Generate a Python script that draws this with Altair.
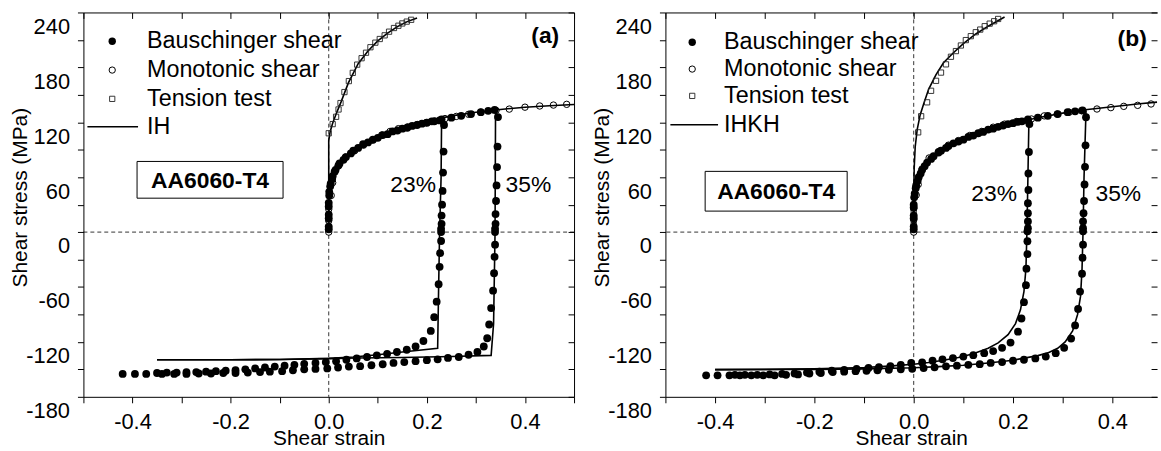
import altair as alt
import pandas as pd

FONT = "Liberation Sans"

# ---------------- Panel (a) data : [shear strain, shear stress MPa] ----------------
A_tension = [[0.0, 4], [0.0, 14], [0.0, 108], [0.008, 118], [0.015, 126], [0.020, 134], [0.024, 141],
             [0.032, 153], [0.041, 165], [0.049, 174], [0.058, 183], [0.067, 190], [0.076, 196],
             [0.085, 202], [0.095, 207], [0.104, 211], [0.114, 215], [0.123, 219], [0.133, 223],
             [0.142, 225.5], [0.150, 228], [0.159, 230], [0.168, 232]]
A_tension_fit = [[0, 0], [0, 100], [0.003, 110], [0.008, 119], [0.015, 129], [0.025, 142], [0.04, 163],
                 [0.06, 184], [0.08, 198], [0.1, 209], [0.12, 217.5], [0.14, 224.5], [0.16, 230], [0.18, 234]]
A_mono = [[0, 0], [0, 12.6], [0, 25], [0.005, 40], [0.008, 54], [0.019, 72], [0.034, 82], [0.053, 89],
          [0.071, 95], [0.089, 100.5], [0.108, 106], [0.125, 110], [0.142, 113], [0.161, 115],
          [0.181, 117.5], [0.199, 119.6], [0.216, 121.4], [0.237, 124], [0.260, 126.4], [0.285, 128.7],
          [0.310, 131], [0.341, 133], [0.368, 134.4], [0.40, 136.5], [0.43, 137.8], [0.458, 138.8],
          [0.485, 139.6]]
A_mono_fit = [[0, 0], [0, 55], [0.003, 62], [0.01, 68], [0.02, 74], [0.035, 82], [0.05, 88], [0.075, 97],
              [0.1, 104], [0.125, 109], [0.15, 114], [0.2, 121], [0.25, 127], [0.3, 131], [0.35, 134],
              [0.4, 136.5], [0.45, 138], [0.5, 139.5]]
A_baus1 = [[0, 3], [0, 15], [0, 28], [0.001, 40], [0.003, 50], [0.007, 58], [0.012, 66], [0.02, 73],
           [0.03, 79], [0.045, 86], [0.06, 92], [0.08, 98], [0.1, 103], [0.12, 107], [0.14, 111],
           [0.16, 114], [0.18, 117], [0.2, 119.5], [0.215, 121], [0.226, 122],
           [0.235, 117], [0.234, 88], [0.233, 65], [0.232, 45], [0.231, 30], [0.230, 18], [0.230, 9],
           [0.229, 3.6], [0.229, 0], [0.229, -9.7], [0.227, -23], [0.226, -38], [0.224, -57],
           [0.220, -76], [0.215, -93], [0.208, -108], [0.193, -119], [0.177, -125], [0.159, -128.6],
           [0.139, -131], [0.119, -133], [0.098, -134.7], [0.078, -136.5], [0.057, -138], [0.036, -139.5],
           [0.015, -141], [-0.006, -142], [-0.027, -143], [-0.05, -144], [-0.07, -145], [-0.09, -146],
           [-0.11, -147], [-0.13, -148], [-0.15, -149], [-0.17, -150], [-0.19, -151], [-0.21, -151.5],
           [-0.23, -152], [-0.25, -152.5], [-0.27, -153], [-0.29, -153], [-0.31, -153.5],
           [-0.33, -153.5], [-0.35, -154]]
A_baus2 = [[0, 6], [0, 19], [0, 32], [0.001, 44], [0.004, 53], [0.008, 61], [0.014, 68], [0.022, 75],
           [0.035, 82], [0.05, 89], [0.07, 96], [0.09, 101], [0.11, 106], [0.13, 110], [0.15, 113],
           [0.17, 116], [0.19, 118.5], [0.21, 121], [0.23, 123], [0.25, 125], [0.27, 127], [0.29, 129],
           [0.31, 131], [0.325, 132.5], [0.338, 133.5],
           [0.345, 125.7], [0.344, 93.4], [0.343, 71], [0.342, 51], [0.341, 34], [0.340, 19.7],
           [0.340, 9], [0.339, 3.6], [0.339, 0], [0.339, -13.7], [0.338, -27], [0.337, -45],
           [0.335, -64], [0.331, -83], [0.327, -101], [0.323, -116], [0.316, -125], [0.303, -131],
           [0.285, -134], [0.265, -136.5], [0.243, -137.5], [0.222, -139], [0.200, -140], [0.177, -141],
           [0.154, -142], [0.132, -143], [0.110, -144.4], [0.087, -145.5], [0.064, -146.5], [0.041, -147],
           [0.019, -148], [-0.003, -149], [-0.027, -149.5], [-0.050, -150], [-0.073, -151],
           [-0.095, -152], [-0.12, -152.5], [-0.14, -153], [-0.165, -153.5], [-0.19, -154],
           [-0.215, -154], [-0.24, -154.5], [-0.265, -154.5], [-0.29, -155], [-0.315, -155],
           [-0.34, -155], [-0.372, -155], [-0.395, -155], [-0.42, -155]]
A_fit1 = [[0.230, 122], [0.229, 60], [0.226, 0], [0.224, -60], [0.222, -127], [0.15, -131], [0.1, -134],
          [0.05, -136.5], [0.0, -138], [-0.1, -139.2], [-0.2, -139.5], [-0.35, -139.5]]
A_fit2 = [[0.340, 133.5], [0.339, 0], [0.336, -100], [0.331, -134.7], [0.25, -136], [0.15, -137],
          [0.057, -137.5], [0.0, -138.3], [-0.1, -139.2], [-0.2, -139.5], [-0.35, -139.5]]

# ---------------- Panel (b) data ----------------
B_tension = [[0.0, 8], [0.0, 22], [0.009, 109], [0.015, 126.6], [0.027, 141.8], [0.035, 154.4],
             [0.045, 165.3], [0.055, 174.3], [0.065, 183.3], [0.075, 191.6], [0.085, 197.8],
             [0.095, 203.9], [0.105, 209.8], [0.115, 214.1], [0.125, 218.4], [0.134, 221.3],
             [0.143, 225], [0.153, 227.8], [0.162, 230.4], [0.17, 232.9]]
B_tension_fit = [[0, 0], [0.0, 40], [0.001, 70], [0.003, 93], [0.007, 112], [0.013, 128], [0.02, 140],
                 [0.03, 156], [0.045, 172], [0.06, 185], [0.08, 196], [0.1, 206], [0.125, 216.5],
                 [0.15, 225], [0.183, 235]]
B_mono = [[0, 0], [0, 13.4], [0, 26], [0.005, 40.5], [0.009, 52], [0.017, 69], [0.031, 81], [0.05, 88],
          [0.07, 95], [0.09, 100], [0.113, 105.6], [0.137, 110], [0.16, 114.6], [0.183, 118],
          [0.207, 120.8], [0.237, 123.6], [0.263, 127], [0.289, 129], [0.313, 131], [0.338, 132.7],
          [0.369, 134.5], [0.397, 136], [0.423, 137.4], [0.451, 138.5], [0.478, 140]]
B_mono_fit = [[0, 0], [0, 30], [0.002, 45], [0.006, 56], [0.012, 65], [0.02, 72], [0.035, 81],
              [0.05, 88], [0.075, 96], [0.1, 102], [0.15, 111.5], [0.2, 119], [0.25, 125], [0.3, 130],
              [0.35, 134], [0.4, 137], [0.45, 140], [0.49, 142]]
B_baus1 = [[0, 3], [0, 15], [0, 27], [0.001, 38], [0.004, 48], [0.008, 56], [0.014, 64], [0.022, 72],
           [0.035, 80], [0.05, 87], [0.065, 92], [0.08, 97], [0.1, 101], [0.12, 105.5], [0.14, 109.5],
           [0.16, 113], [0.18, 116.5], [0.2, 119], [0.218, 121], [0.23, 122],
           [0.233, 118], [0.232, 87.5], [0.231, 64], [0.231, 46], [0.230, 31.5], [0.230, 20.6],
           [0.230, 11.6], [0.230, 4.3], [0.229, 0.8], [0.229, -10], [0.229, -24], [0.227, -40],
           [0.226, -58], [0.222, -76.6], [0.217, -94.4], [0.21, -108.8], [0.195, -120.7],
           [0.178, -126.5], [0.16, -130], [0.142, -132.3], [0.12, -134.5], [0.1, -136], [0.079, -137.7],
           [0.058, -139], [0.038, -140.6], [0.017, -142.4], [-0.005, -143], [-0.026, -145],
           [-0.047, -146.4], [-0.07, -147.5], [-0.091, -148.5], [-0.115, -149.5], [-0.14, -150.5],
           [-0.165, -151.5], [-0.19, -152.5], [-0.215, -153.5], [-0.24, -154.5], [-0.265, -155],
           [-0.29, -155.5], [-0.315, -156], [-0.34, -156], [-0.36, -156]]
B_baus2 = [[0, 6], [0, 18], [0, 30], [0.002, 42], [0.005, 51], [0.01, 60], [0.017, 68], [0.027, 76],
           [0.04, 83], [0.055, 89], [0.07, 94], [0.09, 99], [0.11, 104], [0.13, 108], [0.15, 112],
           [0.17, 115], [0.19, 118], [0.21, 120.5], [0.23, 123], [0.25, 125], [0.27, 127], [0.29, 129],
           [0.31, 131], [0.325, 132], [0.34, 133],
           [0.347, 125.5], [0.346, 94.8], [0.345, 71.3], [0.344, 52], [0.343, 34], [0.342, 20.6],
           [0.341, 11.6], [0.341, 4.3], [0.341, 0.8], [0.341, -13.7], [0.34, -28], [0.339, -45.5],
           [0.335, -65], [0.331, -84], [0.325, -102], [0.317, -116.4], [0.303, -126.5], [0.286, -132.3],
           [0.266, -136], [0.245, -138], [0.222, -139.5], [0.2, -140.6], [0.178, -142], [0.155, -143],
           [0.133, -144.3], [0.11, -145], [0.087, -146], [0.065, -146.7], [0.042, -147.8],
           [0.02, -148.6], [-0.003, -149.3], [-0.026, -150], [-0.05, -150.5], [-0.073, -151],
           [-0.095, -151.5], [-0.117, -152], [-0.14, -152.5], [-0.163, -153], [-0.187, -154],
           [-0.21, -154.5], [-0.233, -155.5], [-0.257, -156], [-0.28, -156.5], [-0.303, -156.5],
           [-0.327, -156.5], [-0.35, -156.5], [-0.371, -156.5], [-0.395, -156.5], [-0.418, -156.5]]
B_fit1 = [[0.232, 122], [0.230, 60], [0.228, 0], [0.226, -40], [0.222, -65], [0.215, -85], [0.205, -100],
          [0.19, -112], [0.17, -121], [0.15, -127], [0.12, -133], [0.09, -137], [0.06, -140],
          [0.03, -142.5], [0.0, -144.5], [-0.05, -146.5], [-0.1, -148], [-0.2, -149.5], [-0.3, -150],
          [-0.4, -150.3]]
B_fit2 = [[0.347, 133], [0.343, 60], [0.341, 0], [0.339, -40], [0.336, -70], [0.33, -90], [0.32, -108],
          [0.305, -120], [0.29, -127], [0.27, -132], [0.25, -135], [0.2, -140], [0.15, -143],
          [0.1, -145.5], [0.05, -147], [0.0, -148.3], [-0.1, -149.5], [-0.2, -150], [-0.4, -150.3]]

# ---------------- ticks / labels ----------------
A_X_TICKS = [-0.5, -0.4, -0.3, -0.2, -0.1, 0.0, 0.1, 0.2, 0.3, 0.4, 0.5]
B_X_TICKS = [-0.5, -0.4, -0.3, -0.2, -0.1, 0.0, 0.1, 0.2, 0.3, 0.4]
Y_TICKS = [-180, -150, -120, -90, -60, -30, 0, 30, 60, 90, 120, 150, 180, 210, 240]
LEGEND_LABELS = ["Bauschinger shear", "Monotonic shear", "Tension test"]
A_X_DOMAIN = [-0.5, 0.5]
B_X_DOMAIN = [-0.5, 0.49]   # panel (b) is cropped at the right edge in the original
Y_DOMAIN = [-180, 240]
H = 387


def frame(pairs):
    return pd.DataFrame({"x": [p[0] for p in pairs], "y": [p[1] for p in pairs],
                         "i": list(range(len(pairs)))})


def panel(W, xdom, xticks, right_domain, tension, tension_fit, mono, mono_fit, baus1, baus2, fit1, fit2,
          model, tag, tag_xy, p23_xy, p35_xy, box, leg):
    XS = alt.Scale(domain=xdom, nice=False, zero=False)
    YS = alt.Scale(domain=Y_DOMAIN, nice=False, zero=False)
    ax_common = dict(tickSize=6, tickColor="black", tickWidth=1, domainColor="black", domainWidth=1,
                     grid=False, labelFont=FONT, labelColor="black", labelOverlap=False,
                     labelFlush=False, titleFont=FONT, titleColor="black", titleFontWeight="normal")
    x_main = alt.Axis(orient="bottom", values=xticks, labelFontSize=22, labelPadding=9,
                      labelExpr="abs(round(datum.value*10)) % 2 == 0 && abs(datum.value) < 0.45 ? "
                                "(datum.value < -0.01 ? '-' : '') + format(abs(datum.value), '.1f') : ''",
                      title="Shear strain", titleFontSize=21, titleX=W / 2, titleY=42,
                      titleAlign="center", titleBaseline="middle", **ax_common)
    y_main = alt.Axis(orient="left", values=Y_TICKS, labelFontSize=22, labelPadding=8, labelOffset=14,
                      labelExpr="datum.value % 60 == 0 ? (datum.value < 0 ? '-' : '') + "
                                "format(abs(datum.value), 'd') : ''",
                      title="Shear stress (MPa)", titleFontSize=21, titleX=-63, titleY=186,
                      titleAngle=270, titleAlign="center", titleBaseline="middle", **ax_common)
    x_top = alt.Axis(orient="bottom", offset=-H, values=xticks, labels=False, title=None, **ax_common)
    rc = dict(ax_common)
    rc["domain"] = right_domain
    y_right = alt.Axis(orient="left", offset=-W, values=Y_TICKS, labels=False, title=None, **rc)

    def xe(axis=None):
        return alt.X("x:Q", scale=XS, axis=axis)

    def ye(axis=None):
        return alt.Y("y:Q", scale=YS, axis=axis)

    one = alt.Data(values=[{}])

    vline = alt.Chart(one).mark_rule(color="black", strokeWidth=0.8, strokeDash=[4, 3]).encode(
        x=alt.datum(0, scale=XS, axis=None))
    hline = alt.Chart(one).mark_rule(color="black", strokeWidth=0.8, strokeDash=[4, 3]).encode(
        y=alt.datum(0, scale=YS, axis=None))

    def line(pairs, axes=False):
        return alt.Chart(frame(pairs)).mark_line(color="black", strokeWidth=1.6).encode(
            x=xe(x_top if axes else None), y=ye(y_right if axes else None), order="i:Q")

    lines = [line(mono_fit, True), line(tension_fit), line(fit1), line(fit2)]

    squares = alt.Chart(frame(tension)).mark_point(shape="square", filled=False, color="#222",
                                                   strokeWidth=0.9, size=28, opacity=1).encode(
        x=xe(), y=ye())
    circles = alt.Chart(frame(mono)).mark_point(shape="circle", filled=False, color="black",
                                                strokeWidth=1, size=42, opacity=1).encode(
        x=xe(), y=ye())
    dots1 = alt.Chart(frame(baus1)).mark_circle(color="black", size=62, opacity=1).encode(
        x=xe(x_main), y=ye(y_main))
    dots2 = alt.Chart(frame(baus2)).mark_circle(color="black", size=62, opacity=1).encode(
        x=xe(), y=ye())

    mx, tx, lx0, lx1, rows = leg
    legend = [
        alt.Chart(one).mark_circle(color="black", size=55, opacity=1).encode(
            x=alt.value(mx), y=alt.value(rows[0])),
        alt.Chart(one).mark_point(shape="circle", filled=False, color="black", size=40,
                                  strokeWidth=1, opacity=1).encode(x=alt.value(mx), y=alt.value(rows[1])),
        alt.Chart(one).mark_point(shape="square", filled=False, color="#222", size=28,
                                  strokeWidth=0.9, opacity=1).encode(x=alt.value(mx), y=alt.value(rows[2])),
        alt.Chart(one).mark_rule(color="black", strokeWidth=1.6).encode(
            x=alt.value(lx0), x2=alt.value(lx1), y=alt.value(rows[3])),
    ]
    for lab, ry in zip(LEGEND_LABELS + [model], rows):
        legend.append(alt.Chart(one).mark_text(text=lab, align="left", baseline="middle", font=FONT,
                                               fontSize=23.5, color="black").encode(
            x=alt.value(tx), y=alt.value(ry)))

    bx0, bx1, by0, by1 = box
    boxes = [
        alt.Chart(one).mark_rect(fill="white", stroke="black", strokeWidth=1).encode(
            x=alt.value(bx0), x2=alt.value(bx1), y=alt.value(by0), y2=alt.value(by1)),
        alt.Chart(one).mark_text(text="AA6060-T4", align="center", baseline="middle", font=FONT,
                                 fontSize=23, fontWeight="bold", color="black").encode(
            x=alt.value((bx0 + bx1) / 2), y=alt.value((by0 + by1) / 2 + 1)),
    ]
    texts = [
        alt.Chart(one).mark_text(text=tag, align="center", baseline="middle", font=FONT,
                                 fontSize=23, fontWeight="bold", color="black").encode(
            x=alt.value(tag_xy[0]), y=alt.value(tag_xy[1])),
        alt.Chart(one).mark_text(text="23%", align="center", baseline="middle", font=FONT,
                                 fontSize=23, color="black").encode(
            x=alt.value(p23_xy[0]), y=alt.value(p23_xy[1])),
        alt.Chart(one).mark_text(text="35%", align="center", baseline="middle", font=FONT,
                                 fontSize=23, color="black").encode(
            x=alt.value(p35_xy[0]), y=alt.value(p35_xy[1])),
    ]

    layers = [vline, hline] + lines + [squares, circles, dots2, dots1] + legend + boxes + texts
    return alt.layer(*layers).resolve_axis(x="independent", y="independent").properties(
        width=W, height=H)


pa = panel(494, A_X_DOMAIN, A_X_TICKS, True, A_tension, A_tension_fit, A_mono, A_mono_fit,
           A_baus1, A_baus2, A_fit1, A_fit2, "IH",
           "(a)", (465, 24), (332, 174), (448, 174), (54, 201, 150, 187),
           (29, 64, 4, 55, [29, 58, 87, 115]))
pb = panel(495, B_X_DOMAIN, B_X_TICKS, False, B_tension, B_tension_fit, B_mono, B_mono_fit,
           B_baus1, B_baus2, B_fit1, B_fit2, "IHKH",
           "(b)", (470, 27), (331, 183), (456, 183), (40, 183, 160, 200),
           (27, 59, 5, 53, [30, 57, 84, 113]))

chart = alt.hconcat(pa, pb, spacing=14).properties(
    padding={"left": 10, "top": 10, "right": 0, "bottom": 0},
    background="white",
).configure_view(stroke=None)

chart.save("out.html", embed_options={"renderer": "svg", "actions": False})
